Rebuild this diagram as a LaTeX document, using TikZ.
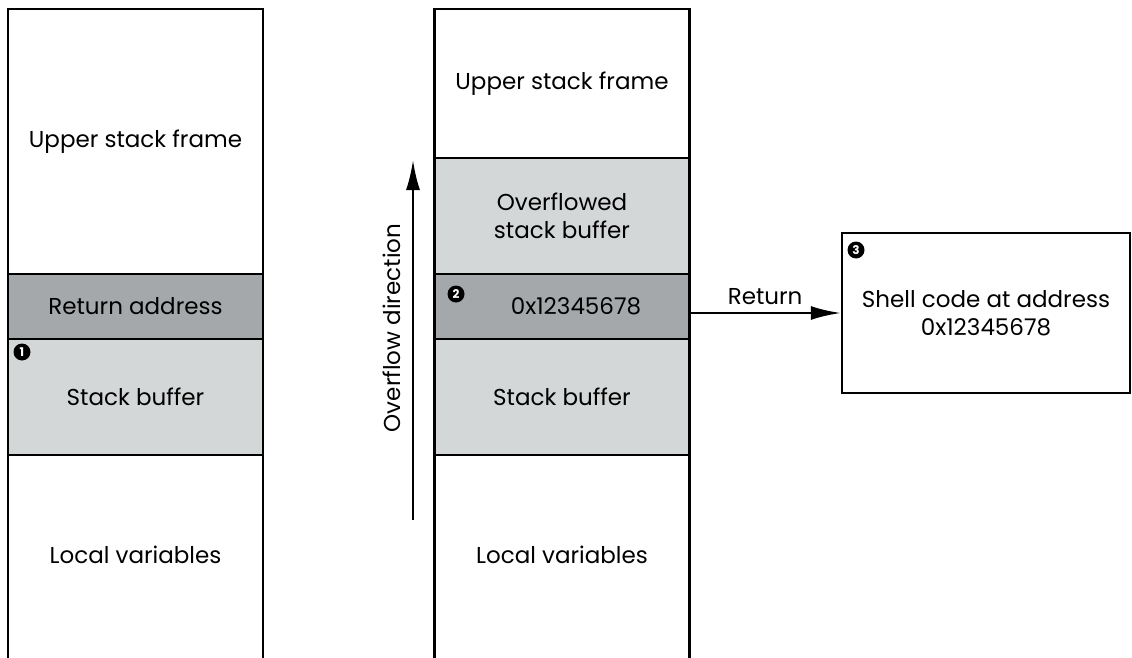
\documentclass[tikz,border=0pt]{standalone}
\usepackage{fontspec}
\setmainfont{Poppins}
\usetikzlibrary{positioning,arrows.meta}
\definecolor{retgray}{HTML}{A4A8AA}
\definecolor{bufgray}{HTML}{D4D7D7}

\begin{document}
\begin{tikzpicture}[
    x=1pt, y=-1pt,
    font=\fontsize{23}{28}\selectfont,
    cell/.style={draw, line width=2.5pt, outer sep=0pt, inner sep=0pt, minimum width=255pt, align=center},
    badge/.style={circle, fill=black, text=white, inner sep=0pt, minimum size=17pt, font=\fontsize{12}{12}\selectfont\bfseries},
    arr/.style={-{Latex[length=30pt,width=14pt]}, line width=2.5pt},
  ]
    \clip (0,0) rectangle (1132,658);
    \fill[white] (0,0) rectangle (1132,658);
    % left stack
    \node[cell, minimum height=265pt, anchor=north] (upL) at (135.5,9) {Upper stack frame};
    \node[cell, fill=retgray, minimum height=65pt, below=0pt of upL] (retL) {Return address};
    \node[cell, fill=bufgray, minimum height=116pt, below=0pt of retL] (bufL) {Stack buffer};
    \node[cell, minimum height=260pt, below=0pt of bufL] (locL) {};
    \node at ([yshift=-100pt]bufL.south) {Local variables};
    \node[badge] (n1) at (22,352) {1};
    % right stack
    \node[cell, minimum height=149pt, anchor=north] (upM) at (562,9) {Upper stack frame};
    \node[cell, fill=bufgray, minimum height=116pt, below=0pt of upM] (ovM) {Overflowed\\stack buffer};
    \node[cell, fill=retgray, minimum height=65pt, below=0pt of ovM] (addrM) {};
    \node at ([xshift=14pt]addrM.center) {0x12345678};
    \node[cell, fill=bufgray, minimum height=116pt, below=0pt of addrM] (bufM) {Stack buffer};
    \node[cell, minimum height=260pt, below=0pt of bufM] (locM) {};
    \node at ([yshift=-100pt]bufM.south) {Local variables};
    \node[badge] (n2) at (456,294) {2};
    % overflow direction
    \coordinate (ovS) at (413,520);
    \coordinate (ovN) at (413,160);
    \draw[arr] (ovS) -- (ovN);
    \node[rotate=90] (ovlab) at (392,328) {Overflow direction};
    % shell code target
    \node[draw, line width=2.5pt, minimum width=288pt, minimum height=160pt, align=center] (shell) at (986,313)
      {Shell code at address\\0x12345678};
    \node[badge] (n3) at (856,250) {3};
    \draw[arr] (addrM.east |- shell.west) -- node[above=4pt] {Return} (shell.west);
  \end{tikzpicture}
\end{document}
